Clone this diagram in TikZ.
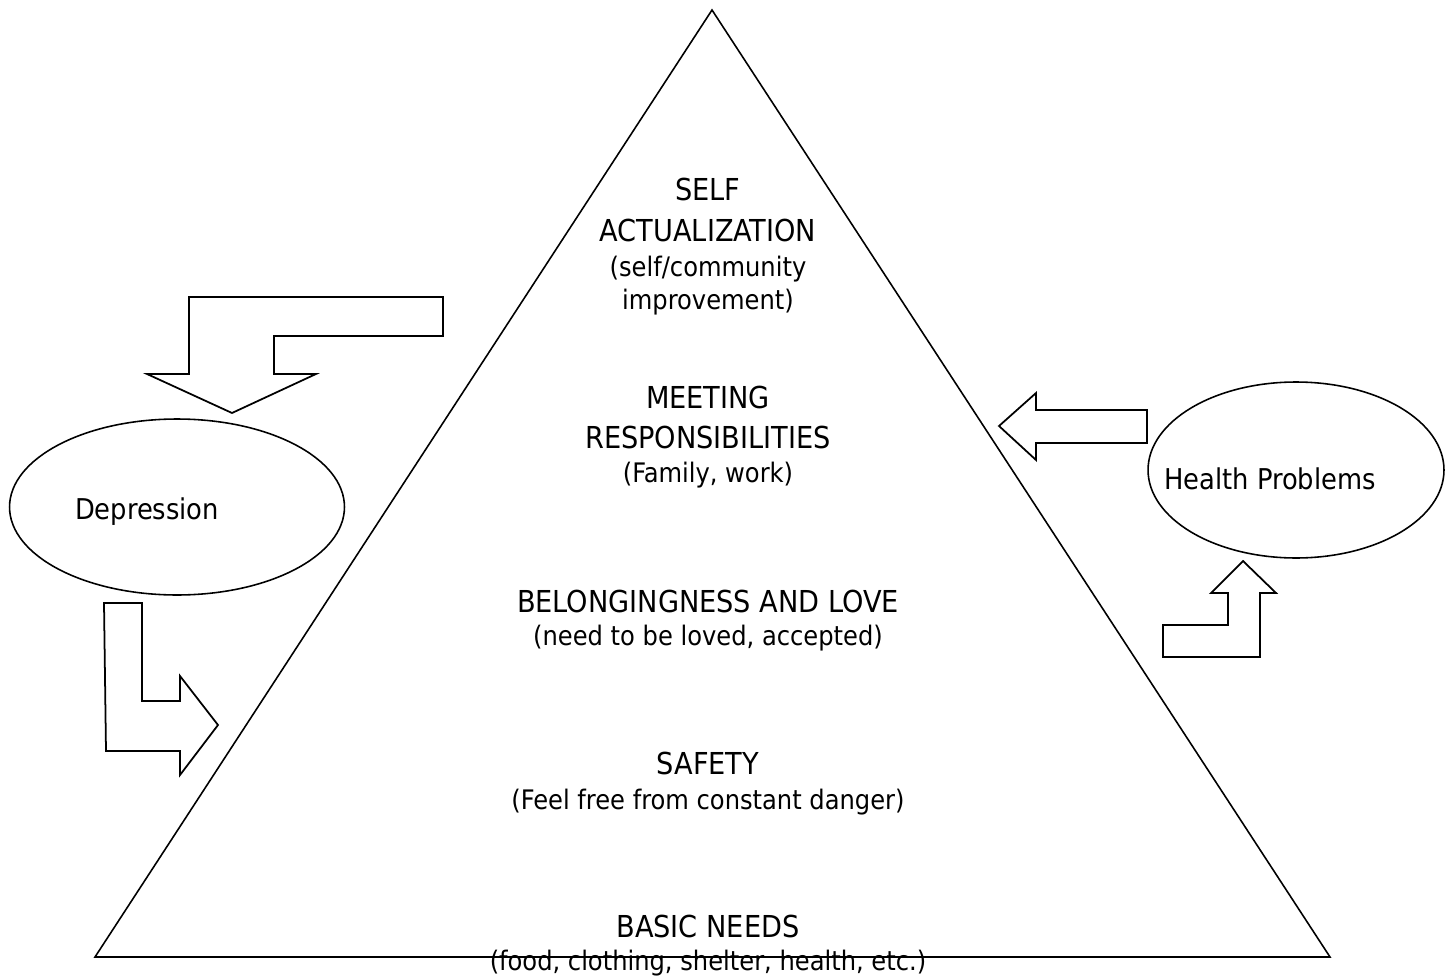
\documentclass[tikz,border=0pt]{standalone}
\usepackage{fontspec}
\setmainfont{DejaVu Sans Condensed}
\usepackage{tikz}
\usetikzlibrary{shapes.geometric}
\tikzset{big/.style={anchor=base,inner sep=0pt,font=\fontsize{17.2}{20}\selectfont},
	small/.style={anchor=base,inner sep=0pt,font=\fontsize{15.3}{18}\selectfont},
	label text/.style={anchor=base,inner sep=0pt,font=\fontsize{16.3}{19}\selectfont},
	oval/.style={draw,ellipse,line width=0.9pt,inner sep=0pt},
	blockarrow/.style={draw,line width=1pt,line join=miter,fill=white}}

\begin{document}
\begin{tikzpicture}[x=0.02cm,y=-0.02cm]
\useasboundingbox (0,0) rectangle (1452,976);
% pyramid
\coordinate (top) at (712,10);
\coordinate (bl) at (95,957);
\coordinate (br) at (1330,957);
\draw[line width=0.9pt] (top) -- (bl) -- (br) -- cycle;
% levels
\node [big] (s1) at (708,201) {SELF};
\node [big] (s2) at (708,242) {ACTUALIZATION};
\node [small] (s3) at (708,276) {(self/community};
\node [small] (s4) at (708,309) {improvement)};
\node [big] (m1) at (708,408) {MEETING};
\node [big] (m2) at (708,448) {RESPONSIBILITIES};
\node [small] (m3) at (708,482) {(Family, work)};
\node [big] (b1) at (708,612) {BELONGINGNESS AND LOVE};
\node [small] (b2) at (708,645) {(need to be loved, accepted)};
\node [big] (f1) at (708,774) {SAFETY};
\node [small] (f2) at (708,809) {(Feel free from constant danger)};
\node [big] (n1) at (708,937) {BASIC NEEDS};
\node [small] (n2) at (708,970) {(food, clothing, shelter, health, etc.)};
% side ovals
\node [oval,minimum width=6.7cm,minimum height=3.52cm] (dep) at (177,507) {};
\node [label text] (dept) at (147,519) {Depression};
\node [oval,minimum width=5.92cm,minimum height=3.52cm] (hp) at (1296,470) {};
\node [label text] (hpt) at (1270,489) {Health Problems};
% block arrows
\draw[blockarrow] (443,297) -- (189,297) -- (189,374) -- (147,374) -- (232,413)
  -- (316,374) -- (274,374) -- (274,336) -- (443,336) -- cycle;
\draw[blockarrow] (104,603) -- (142,603) -- (142,701) -- (180,701) -- (180,676)
  -- (218,725) -- (180,775) -- (180,751) -- (106,751) -- cycle;
\draw[blockarrow] (999,426) -- (1036,393) -- (1036,410) -- (1147,410) -- (1147,443)
  -- (1036,443) -- (1036,460) -- cycle;
\draw[blockarrow] (1243,561) -- (1276,593) -- (1260,593) -- (1260,657) -- (1163,657)
  -- (1163,625) -- (1228,625) -- (1228,593) -- (1211,593) -- cycle;
\end{tikzpicture}
\end{document}
